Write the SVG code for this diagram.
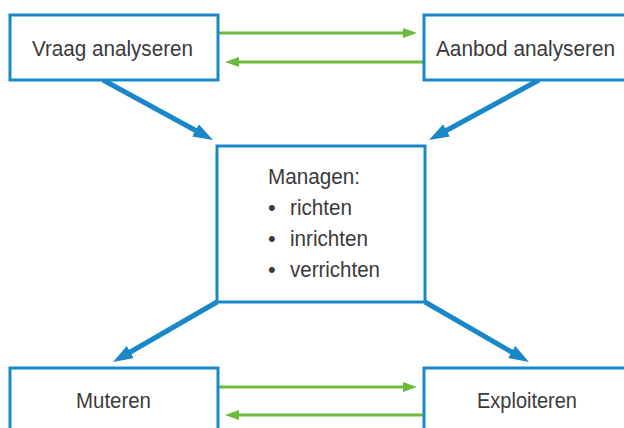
<svg xmlns="http://www.w3.org/2000/svg" width="624" height="428" viewBox="0 0 624 428">
<style>
.box{fill:#fff;stroke:#1a87c9;stroke-width:3}
.t{font-family:"Liberation Sans",Arial,sans-serif;font-size:22px;fill:#3a3a3a}
.g{stroke:#6cbb3c;stroke-width:3;fill:none}
.b{stroke:#1a87c9;stroke-width:5;fill:none}
</style>
<defs>
<marker id="ga" markerUnits="userSpaceOnUse" markerWidth="14" markerHeight="10" refX="6" refY="5" orient="auto"><path d="M0,0 L14,5 L0,10 z" fill="#6cbb3c"/></marker>
<marker id="ba" markerUnits="userSpaceOnUse" markerWidth="20" markerHeight="14" refX="8" refY="7" orient="auto"><path d="M0,0 L20,7 L0,14 z" fill="#1a87c9"/></marker>
</defs>
<rect width="624" height="428" fill="#fff"/>
<g id="connectors">
<line class="g" x1="218" y1="33" x2="409" y2="33" marker-end="url(#ga)"/>
<line class="g" x1="423" y1="62" x2="233" y2="62" marker-end="url(#ga)"/>
<line class="g" x1="218" y1="387" x2="409" y2="387" marker-end="url(#ga)"/>
<line class="g" x1="424" y1="415" x2="233" y2="415" marker-end="url(#ga)"/>
<line class="b" x1="103" y1="80" x2="202.5" y2="134.3" marker-end="url(#ba)"/>
<line class="b" x1="539" y1="80" x2="439.5" y2="134.3" marker-end="url(#ba)"/>
<line class="b" x1="217" y1="302" x2="123.4" y2="356" marker-end="url(#ba)"/>
<line class="b" x1="425" y1="302" x2="518.6" y2="356" marker-end="url(#ba)"/>
</g>
<g id="vraag"><rect class="box" x="10" y="15" width="208" height="65"/><text class="t" x="32" y="56" textLength="161" lengthAdjust="spacingAndGlyphs">Vraag analyseren</text></g>
<g id="aanbod"><rect class="box" x="424" y="15" width="206" height="65"/><text class="t" x="436" y="56" textLength="179" lengthAdjust="spacingAndGlyphs">Aanbod analyseren</text></g>
<g id="managen"><rect class="box" x="217" y="146" width="208" height="156"/>
<text class="t" x="268" y="184" textLength="92" lengthAdjust="spacingAndGlyphs">Managen:</text>
<text class="t" x="268" y="215">•</text><text class="t" x="290" y="215" textLength="62" lengthAdjust="spacingAndGlyphs">richten</text>
<text class="t" x="268" y="246">•</text><text class="t" x="290" y="246" textLength="78" lengthAdjust="spacingAndGlyphs">inrichten</text>
<text class="t" x="268" y="277">•</text><text class="t" x="290" y="277" textLength="90" lengthAdjust="spacingAndGlyphs">verrichten</text>
</g>
<g id="muteren"><rect class="box" x="10" y="368" width="208" height="70"/><text class="t" x="76" y="408" textLength="75" lengthAdjust="spacingAndGlyphs">Muteren</text></g>
<g id="exploiteren"><rect class="box" x="424" y="368" width="206" height="70"/><text class="t" x="477" y="408" textLength="100" lengthAdjust="spacingAndGlyphs">Exploiteren</text></g>
</svg>
